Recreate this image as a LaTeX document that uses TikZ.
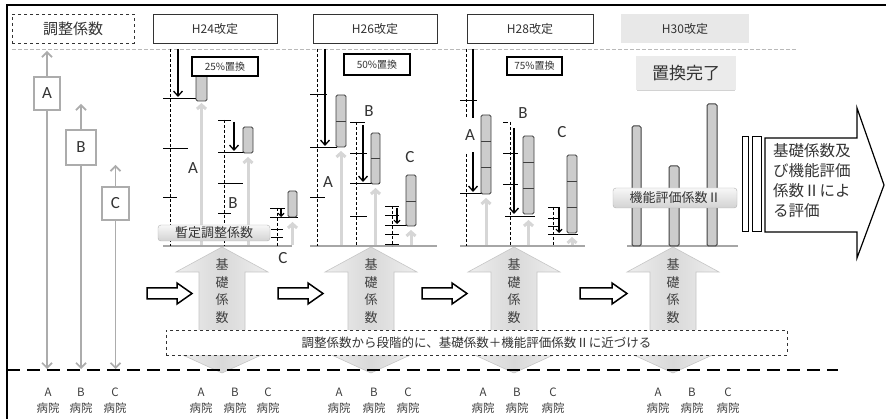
\documentclass[tikz,border=0pt]{standalone}
\usepackage{fontspec}
\setmainfont{Noto Sans CJK JP}
\newfontfamily\lat{Carlito}
\usetikzlibrary{arrows.meta}
\begin{document}
\begin{tikzpicture}[x=1pt,y=-1pt,
 hdr/.style={draw=black!80, line width=0.8pt, minimum width=124pt, minimum height=29pt, inner sep=0pt, text=black!80, font=\fontsize{12}{14}\selectfont},
 hdrd/.style={hdr, dashed, minimum width=122pt, font=\fontsize{15}{17}\selectfont},
 hdrg/.style={hdr, draw=none, fill=gray!18, minimum width=128pt},
 pct/.style={draw=black, line width=1.6pt, fill=white, inner sep=0pt, text=black!80, font=\fontsize{10}{12}\selectfont},
 bar/.style={draw=black!75, line width=0.8pt, fill=gray!40, rounded corners=1.5pt},
 seg/.style={draw=black!75, line width=0.8pt},
 lup/.style={draw=gray!32, line width=3pt, -{Straight Barb[length=4pt,width=9pt]}},
 blk/.style={draw=black, line width=1.3pt, -{Straight Barb[length=5pt,width=9pt]}},
 sblk/.style={draw=black, line width=1.1pt, -{Straight Barb[length=3pt,width=6pt]}},
 dsh/.style={draw=black, line width=0.6pt, dash pattern=on 3pt off 2pt},
 tk/.style={draw=black, line width=0.7pt},
 basel/.style={draw=gray!70, line width=1.5pt},
 gbox/.style={draw=gray!60, rounded corners=3pt, top color=gray!6, bottom color=gray!35, inner sep=0pt, text=black!80},
 garr/.style={draw=gray!65, line width=1.7pt, {Straight Barb[length=5pt,width=10pt]}-{Straight Barb[length=5pt,width=10pt]}},
 lbox/.style={draw=gray!65, line width=1.3pt, fill=white, inner sep=0pt, text=black!80, font=\lat\fontsize{17}{19}\selectfont},
 plab/.style={font=\lat\fontsize{17}{19}\selectfont, text=black!80, inner sep=1pt},
 bigup/.style={draw=gray!45, line width=0.6pt, left color=gray!12, right color=gray!12, middle color=gray!30},
 vtxt/.style={align=center, text=black!75, font=\fontsize{13}{17.5}\selectfont},
 openarr/.style={draw=black, line width=1.5pt, fill=white},
 hl/.style={align=center, text=black!75, font=\fontsize{11.5}{16}\selectfont, inner sep=0pt}
]
\useasboundingbox (0,0) rectangle (886,419);
\fill[white] (0,0) rectangle (886,419);

% big up arrows (behind)
\foreach \cx/\nm in {222/u1,371/u2,514/u3,673/u4}{
  \shade[bigup] (\cx,247) -- (\cx+46,272) -- (\cx+23,272) -- (\cx+23,351) -- (\cx+48,351) -- (\cx,373)
     -- (\cx-48,351) -- (\cx-23,351) -- (\cx-23,272) -- (\cx-46,272) -- cycle;
  \node[vtxt] (\nm) at (\cx,291) {基\\礎\\係\\数};
}

% frame
\draw[line width=1.2pt] (7,419) -- (7,5) -- (886,5);

% headers
\node[hdrd] (h0) at (73,28.5) {調整係数};
\node[hdr]  (h1) at (215,28.5) {H24改定};
\node[hdr]  (h2) at (375,28.5) {H26改定};
\node[hdr, minimum width=126pt] (h3) at (530,28.5) {H28改定};
\node[hdrg] (h4) at (685,28.5) {H30改定};
\draw[gray!55, line width=0.8pt, dash pattern=on 4pt off 2pt] (12,49) -- (797,49);

% left: adjustment coefficients
\coordinate (lAt) at (47,51);  \coordinate (lAb) at (47,369);
\coordinate (lBt) at (81,104); \coordinate (lBb) at (81,369);
\coordinate (lCt) at (115.5,165); \coordinate (lCb) at (115.5,369);
\draw[garr] (lAb) -- (lAt);
\draw[garr] (lBb) -- (lBt);
\draw[garr] (lCb) -- (lCt);
\node[lbox, minimum width=26pt, minimum height=33pt] (lA) at (47,93.5) {A};
\node[lbox, minimum width=30pt, minimum height=35pt] (lB) at (81,147.5) {B};
\node[lbox, minimum width=27pt, minimum height=33pt] (lC) at (115.5,203.5) {C};

% bottom dashed line
\draw[black, line width=1.3pt, dash pattern=on 13pt off 7pt] (7,370) -- (838,370);

% note box
\node[draw=black!80, dashed, line width=0.8pt, fill=white, minimum width=621pt, minimum height=25pt, inner sep=0pt, text=black!80, font=\fontsize{12.5}{14}\selectfont]
  (note) at (476.5,342.5) {調整係数から段階的に、基礎係数＋機能評価係数Ⅱに近づける};

% open arrows
\foreach \xa/\xb in {147/192,278/323,422/467,580/627}{
  \draw[openarr] (\xa,288) -- (\xb-15,288) -- (\xb-15,283) -- (\xb,293.5) -- (\xb-15,304) -- (\xb-15,299) -- (\xa,299) -- cycle;
}

% hospital labels
\foreach \x/\l [count=\i] in {48/A,81/B,115/C,201/A,235/B,268/C,339/A,374/B,408/C,483/A,517/B,553/C,658/A,692/B,728/C}{
  \node[hl] (hosp\i) at (\x,401) {\l\\病院};
}

% ===== panel 1 (H24) =====
\draw[basel] (163,246) -- (292,246);
\draw[dsh] (170,49) -- (170,246);
\draw[tk] (163,148) -- (188,148);
\draw[tk] (163,197) -- (177,197);
\draw[tk] (163,98) -- (200,98);
\draw[blk] (178,49) -- (178,97);
\draw[lup] (201.5,245) -- (201.5,103);
\draw[bar] (196,70) rectangle (207,101);
\node[pct, minimum width=66pt, minimum height=19pt] (p1) at (225,66.5) {25\%置換};
\node[plab] (a1) at (193,168) {A};
\draw[dsh] (224,120) -- (224,246);
\draw[tk] (218,120) -- (231,120);
\draw[tk] (218,183) -- (243,183);
\draw[tk] (218,213) -- (231,213);
\draw[tk] (218,152) -- (251,152);
\draw[blk] (234,122) -- (234,151);
\draw[lup] (248,245) -- (248,157);
\draw[bar] (243,127) rectangle (253,153);
\node[plab] (b1) at (233,203) {B};
\draw[dsh] (277,208) -- (277,246);
\draw[tk] (270,208) -- (285,208);
\draw[tk] (270,217) -- (298,217);
\draw[tk] (271,229) -- (283,229);
\draw[tk] (271,237) -- (283,237);
\draw[sblk] (281,208) -- (281,217);
\draw[lup] (292.5,245) -- (292.5,222);
\draw[bar] (288,191) rectangle (297,217);
\node[gbox, minimum width=112pt, minimum height=16pt, font=\fontsize{13}{15}\selectfont] (z1) at (214,233) {暫定調整係数};
\node[plab] (c1) at (283,258) {C};

% ===== panel 2 (H26) =====
\draw[basel] (310,246) -- (437,246);
\draw[dsh] (317,49) -- (317,246);
\draw[tk] (310,94) -- (327,94);
\draw[tk] (310,197) -- (325,197);
\draw[tk] (310,147) -- (337,147);
\draw[blk] (325,49) -- (325,146);
\draw[lup] (341,245) -- (341,151);
\draw[bar] (336,95) rectangle (346,147); \draw[seg] (336,121) -- (346,121);
\node[plab] (a2) at (328,182) {A};
\node[pct, minimum width=66pt, minimum height=21pt] (p2) at (377,64.5) {50\%置換};
\draw[dsh] (356,122) -- (356,246);
\draw[tk] (350,122) -- (365,122);
\draw[tk] (350,153) -- (367,153);
\draw[tk] (350,216) -- (367,216);
\draw[tk] (350,183) -- (380,183);
\draw[blk] (363,125) -- (363,182);
\draw[lup] (375.5,245) -- (375.5,188);
\draw[bar] (371,133) rectangle (380,184); \draw[seg] (371,158) -- (380,158);
\node[plab] (b2) at (369,111) {B};
\draw[dsh] (392,206) -- (392,246);
\draw[tk] (385,206) -- (399,206);
\draw[tk] (385,215) -- (399,215);
\draw[tk] (385,225) -- (413,225);
\draw[tk] (385,234) -- (399,234);
\draw[tk] (385,244) -- (399,244);
\draw[sblk] (397,208) -- (397,224);
\draw[lup] (411,245) -- (411,230);
\draw[bar] (406,175) rectangle (416,226); \draw[seg] (406,201) -- (416,201);
\node[plab] (c2) at (410,157) {C};

% ===== panel 3 (H28) =====
\draw[basel] (460,246) -- (585,246);
\draw[dsh] (466,49) -- (466,246);
\draw[tk] (460,100) -- (477,100);
\draw[tk] (460,193) -- (490,193);
\draw[blk] (473,49) -- (473,192);
\draw[lup] (486,245) -- (486,198);
\node[plab, fill=white, minimum width=18pt, minimum height=34pt, inner sep=0pt] (a3) at (470,135) {A};
\draw[bar] (481,115) rectangle (491,194); \draw[seg] (481,141) -- (491,141); \draw[seg] (481,167) -- (491,167);
\node[pct, minimum width=55pt, minimum height=18pt] (p3) at (534.5,66) {75\%置換};
\draw[dsh] (510,122) -- (510,246);
\draw[tk] (503,122) -- (508,122);
\draw[tk] (503,153) -- (518,153);
\draw[tk] (503,184) -- (518,184);
\draw[tk] (505,216) -- (535,216);
\draw[blk] (514,128) -- (514,214);
\draw[lup] (528.5,245) -- (528.5,220);
\draw[bar] (523,136) rectangle (534,214); \draw[seg] (523,162) -- (534,162); \draw[seg] (523,188) -- (534,188);
\node[plab] (b3) at (523,113) {B};
\draw[dsh] (553,207) -- (553,246);
\draw[tk] (548,207) -- (560,207);
\draw[tk] (548,218) -- (560,218);
\draw[tk] (548,226) -- (560,226);
\draw[tk] (548,234) -- (578,234);
\draw[sblk] (559,208) -- (559,233);
\draw[lup] (572,245) -- (572,237);
\draw[bar] (567,155) rectangle (577,233); \draw[seg] (567,181) -- (577,181); \draw[seg] (567,207) -- (577,207);
\node[plab] (c3) at (562,132) {C};

% ===== panel 4 (H30) =====
\node[fill=gray!16, minimum width=100pt, minimum height=34pt, inner sep=0pt, text=black!80, font=\fontsize{17}{19}\selectfont] (done) at (686,73) {置換完了};
\draw[gray!35, line width=1.2pt] (637,90.5) -- (735,90.5);
\draw[basel] (627,246) -- (738,246);
\draw[bar, line width=1pt] (632,126) rectangle (641,246);
\draw[bar, line width=1pt] (669,166) rectangle (679,246);
\draw[bar, line width=1pt] (707,104) rectangle (717,246);
\node[gbox, minimum width=124pt, minimum height=20pt, font=\fontsize{13}{15}\selectfont] (k2) at (675,198) {機能評価係数Ⅱ};

% ===== final striped arrow =====
\draw[line width=1pt, fill=white] (742,137) rectangle (748,232);
\draw[line width=1pt, fill=white] (752,137) rectangle (761,232);
\draw[line width=1.2pt, fill=white] (765,138) -- (857,138) -- (857,108) -- (884,185) -- (857,258) -- (857,232) -- (765,232) -- cycle;
\node[anchor=north west, align=left, inner sep=0pt, text=black!80, font=\fontsize{15.5}{20}\selectfont] (res) at (773,143) {基礎係数及\\び機能評価\\係数Ⅱによ\\る評価};
\end{tikzpicture}
\end{document}
